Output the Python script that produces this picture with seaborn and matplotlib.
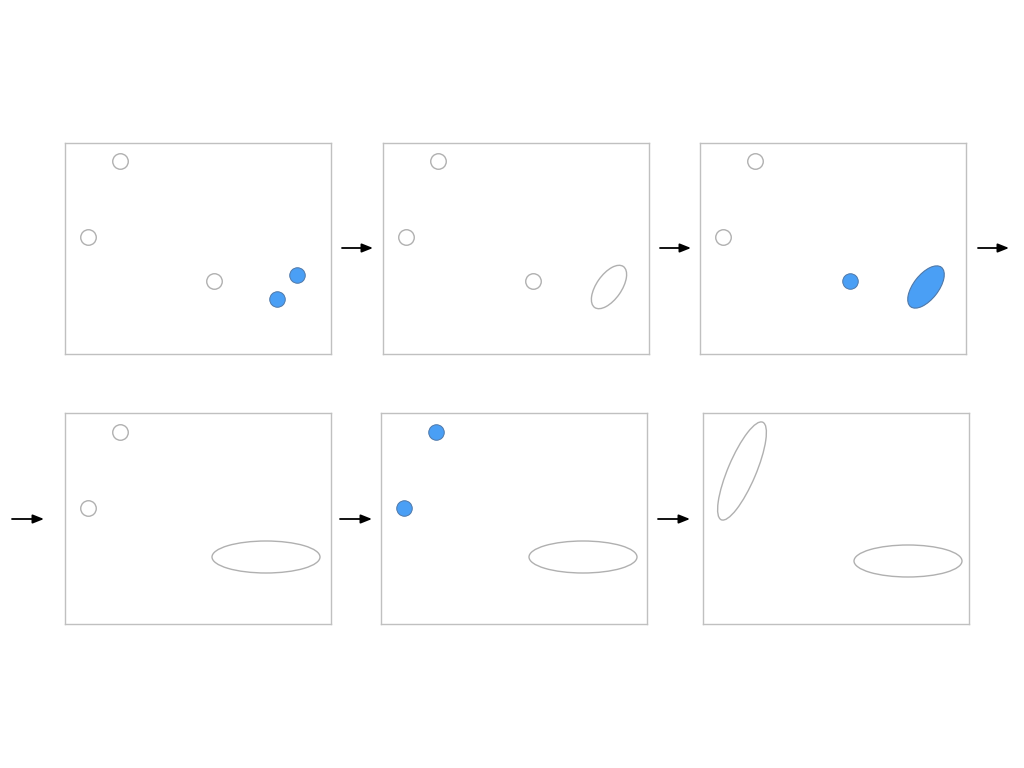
import matplotlib
matplotlib.use("Agg")
import matplotlib.pyplot as plt
from matplotlib.patches import Ellipse
import seaborn as sns
import pandas as pd

sns.set_theme(style="white")

W, H = 1024, 768
PANEL_W, PANEL_H = 266, 211

# panel positions (left, top) in pixels
panel_left = [65, 383, 700, 65, 381, 703]
panel_top = [143, 143, 143, 413, 413, 413]

# points per panel: local coords (x, y from top), state: "open" or "active"
pt_panel = [0, 0, 0, 0, 0, 1, 1, 1, 2, 2, 2, 3, 3, 4, 4]
pt_x = [55, 23, 149, 232, 212, 55, 23, 150, 55, 23, 150, 55, 23, 55, 23]
pt_y = [18, 94, 138, 132, 156, 18, 94, 138, 18, 94, 138, 19, 95, 19, 95]
pt_state = ["open", "open", "open", "active", "active",
            "open", "open", "open",
            "open", "open", "active",
            "open", "open",
            "active", "active"]

# ellipses per panel: center, width, height, angle (deg, visual ccw), state
el_panel = [1, 2, 3, 4, 5, 5]
el_x = [226, 226, 201, 202, 39, 205]
el_y = [144, 144, 144, 144, 58, 148]
el_w = [50, 50, 108, 108, 106, 108]
el_h = [25, 25, 32, 32, 28, 32]
el_angle = [55, 52, 0, 0, 67, 0]
el_state = ["open", "active", "open", "open", "open", "open"]

# arrows: (x_start, x_end, y)
arrow_x0 = [342, 660, 978, 12, 340, 658]
arrow_x1 = [373, 691, 1009, 44, 372, 690]
arrow_y = [248, 248, 248, 519, 519, 519]

BLUE = "#4a9ff5"
BLUE_EDGE = "#4f78a8"
GREY = "#b0b0b0"

df = pd.DataFrame({"panel": pt_panel, "x": pt_x, "y": pt_y, "state": pt_state})

fig = plt.figure(figsize=(W / 100, H / 100), dpi=100)
fig.patch.set_facecolor("white")

for i in range(6):
    l, t = panel_left[i], panel_top[i]
    ax = fig.add_axes([l / W, 1 - (t + PANEL_H) / H, PANEL_W / W, PANEL_H / H])
    ax.set_xlim(0, PANEL_W)
    ax.set_ylim(PANEL_H, 0)
    ax.set_xticks([])
    ax.set_yticks([])
    for s in ax.spines.values():
        s.set_color("#c0c0c0")
        s.set_linewidth(1.0)
    sub = df[df.panel == i]
    op = sub[sub.state == "open"]
    ac = sub[sub.state == "active"]
    if len(op):
        sns.scatterplot(data=op, x="x", y="y", ax=ax, s=125, facecolor="white",
                        edgecolor=GREY, linewidth=1.0, legend=False, zorder=3)
    if len(ac):
        sns.scatterplot(data=ac, x="x", y="y", ax=ax, s=125, color=BLUE,
                        edgecolor=BLUE_EDGE, linewidth=0.7, legend=False, zorder=3)
    for j in range(len(el_panel)):
        if el_panel[j] != i:
            continue
        if el_state[j] == "active":
            fc, ec, lw = BLUE, BLUE_EDGE, 0.8
        else:
            fc, ec, lw = "none", GREY, 1.0
        ax.add_patch(Ellipse((el_x[j], el_y[j]), el_w[j], el_h[j],
                             angle=-el_angle[j], facecolor=fc, edgecolor=ec,
                             linewidth=lw, zorder=2))
    ax.set_xlabel("")
    ax.set_ylabel("")

ov = fig.add_axes([0, 0, 1, 1])
ov.set_xlim(0, W)
ov.set_ylim(H, 0)
ov.axis("off")
ov.patch.set_alpha(0)
for x0, x1, y in zip(arrow_x0, arrow_x1, arrow_y):
    ov.annotate("", xy=(x1, y), xytext=(x0, y),
                arrowprops=dict(arrowstyle="-|>,head_length=0.55,head_width=0.22",
                                color="black", lw=1.3, shrinkA=0, shrinkB=0))

fig.savefig("out.png", dpi=100, facecolor="white")
